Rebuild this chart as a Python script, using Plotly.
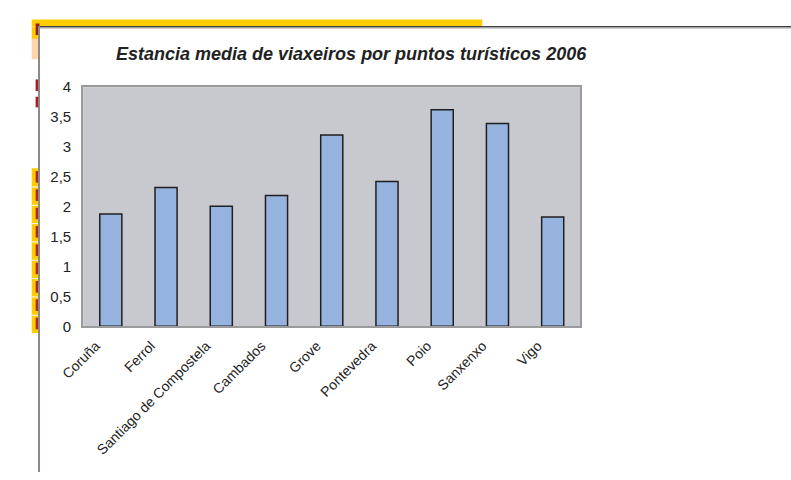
import plotly.graph_objects as go

categories = ["Coruña", "Ferrol", "Santiago de Compostela", "Cambados", "Grove",
              "Pontevedra", "Poio", "Sanxenxo", "Vigo"]
estancia = [1.88, 2.32, 2.01, 2.19, 3.20, 2.42, 3.62, 3.39, 1.83]
title_text = "Estancia media de viaxeiros por puntos turísticos 2006"

W, H = 791, 480


def px(x):
    return x / W


def py(y):
    return 1 - y / H


fig = go.Figure()
fig.add_trace(go.Bar(
    x=categories, y=estancia,
    marker=dict(color="#95B3DE", line=dict(color="#1f1f1f", width=1.5)),
    hoverinfo="x+y",
))

shapes = []


def rect(x0, y0, x1, y1, fill):
    shapes.append(dict(type="rect", xref="paper", yref="paper",
                       x0=px(x0), x1=px(x1), y0=py(y1), y1=py(y0),
                       fillcolor=fill, layer="below",
                       line=dict(color=fill, width=0)))


def line(x0, y0, x1, y1, color, lw):
    shapes.append(dict(type="line", xref="paper", yref="paper",
                       x0=px(x0), x1=px(x1), y0=py(y0), y1=py(y1),
                       layer="above", line=dict(color=color, width=lw)))


# spreadsheet remnants behind the chart frame
rect(9, 11, 473, 18, "#FFCC00")
rect(9, 18, 17, 31, "#FFCC00")
rect(9, 31, 17, 52, "#FFD5A8")
rect(13, 15, 17, 27, "#9B1B1B")
rect(13, 73, 17, 85, "#B01C1C")
rect(13, 91, 17, 102, "#B01C1C")
rect(9, 165, 17, 336, "#FFCC00")
for i in range(9):
    y0 = 165 + i * 19
    rect(13, y0 + 3, 17, y0 + 15, "#B0281C")
    if i > 0:
        rect(9, y0, 17, y0 + 1, "#FFFFFF")

# chart frame
line(17, 18.5, W, 18.5, "#404040", 1.5)
line(17, 19.8, W, 19.8, "#b0b0b0", 1)
line(16.5, 18, 16.5, H, "#8a8a8a", 2)

fig.update_layout(
    width=W, height=H,
    margin=dict(l=0, r=0, t=0, b=0),
    paper_bgcolor="white",
    plot_bgcolor="#C8C9CE",
    separators=",.",
    showlegend=False,
    bargap=0.6,
    shapes=shapes,
    font=dict(family="Liberation Sans, Arial, sans-serif", color="#222222"),
    annotations=[dict(
        text="<b><i>" + title_text + "</i></b>",
        xref="paper", yref="paper", x=px(338), y=py(47),
        xanchor="center", yanchor="middle", showarrow=False,
        font=dict(size=18, color="#222222"),
    )],
    xaxis=dict(
        domain=[px(62), px(574)],
        type="category",
        tickangle=-45,
        tickfont=dict(size=14, color="#222222"),
        showgrid=False,
        showline=True, linecolor="#9a9a9a", linewidth=2, mirror=True,
        ticks="outside", ticklen=4, tickcolor="rgba(0,0,0,0)",
        ticklabelshift=-15,
        zeroline=False,
    ),
    yaxis=dict(
        domain=[py(329), py(81)],
        range=[0, 4],
        dtick=0.5,
        tickfont=dict(size=15, color="#222222"),
        showgrid=False,
        showline=True, linecolor="#9a9a9a", linewidth=2, mirror=True,
        ticks="outside", ticklen=7, tickcolor="rgba(0,0,0,0)",
        zeroline=False,
    ),
)

fig.write_html(
    "out.html",
    config={"displayModeBar": False},
    post_script="document.body.style.margin='0';document.body.style.overflow='hidden';",
)
